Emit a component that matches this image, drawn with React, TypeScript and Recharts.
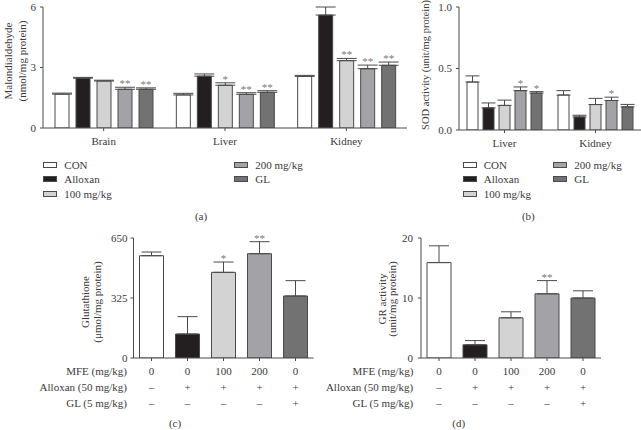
import React from "react";
import { BarChart, Bar, XAxis, YAxis, ErrorBar, LabelList, Cell } from "recharts";

const FONT = "'Liberation Serif', 'DejaVu Serif', serif";
const INK = "#3a3a3a";
const EDGE = "#4a4a4a";
const STAR = "#7a7a7a";

const GROUPS = [
    { key: "con", name: "CON", fill: "#ffffff" },
    { key: "alloxan", name: "Alloxan", fill: "#231f20" },
    { key: "mfe100", name: "100 mg/kg", fill: "#d3d3d3" },
    { key: "mfe200", name: "200 mg/kg", fill: "#a3a3a7" },
    { key: "gl", name: "GL", fill: "#727272" },
];

// (a) malondialdehyde, nmol/mg protein
const mdaTissues = ["Brain", "Liver", "Kidney"];
const mdaCon = [1.68, 1.64, 2.56];
const mdaConErr = [0.05, 0.08, 0.05];
const mdaAlloxan = [2.47, 2.57, 5.6];
const mdaAlloxanErr = [0.04, 0.11, 0.4];
const mda100 = [2.33, 2.12, 3.34];
const mda100Err = [0.04, 0.12, 0.11];
const mda200 = [1.92, 1.67, 2.94];
const mda200Err = [0.1, 0.08, 0.18];
const mdaGL = [1.92, 1.77, 3.11];
const mdaGLErr = [0.07, 0.08, 0.16];
const mdaSig = [["", "", ""], ["", "", ""], ["", "*", "**"], ["**", "**", "**"], ["**", "**", "**"]];
const mdaTicks = [0, 3, 6];

// (b) SOD activity, unit/mg protein
const sodTissues = ["Liver", "Kidney"];
const sodCon = [0.39, 0.284];
const sodConErr = [0.05, 0.036];
const sodAlloxan = [0.18, 0.106];
const sodAlloxanErr = [0.04, 0.014];
const sod100 = [0.2, 0.207];
const sod100Err = [0.043, 0.05];
const sod200 = [0.32, 0.24];
const sod200Err = [0.03, 0.027];
const sodGL = [0.3, 0.188];
const sodGLErr = [0.012, 0.02];
const sodSig = [["", ""], ["", ""], ["", ""], ["*", "*"], ["*", ""]];
const sodTicks = [0, 0.5, 1.0];

// treatment rows under (c) and (d)
const mfeDose = ["0", "0", "100", "200", "0"];
const alloxanGiven = ["\u2013", "+", "+", "+", "+"];
const glGiven = ["\u2013", "\u2013", "\u2013", "\u2013", "+"];

// (c) glutathione, umol/mg protein
const gshValues = [554, 130, 464, 565, 336];
const gshErr = [20, 94, 56, 65, 83];
const gshSig = ["", "", "*", "**", ""];
const gshTicks = [0, 325, 650];

// (d) GR activity, unit/mg protein
const grValues = [15.9, 2.2, 6.7, 10.7, 10.0];
const grErr = [2.8, 0.7, 1.0, 2.2, 1.2];
const grSig = ["", "", "", "**", ""];
const grTicks = [0, 10, 20];

function buildGrouped(cats: string[], series: number[][][], sig: string[][]) {
    return cats.map((tissue, i) => {
        const row: any = { tissue };
        GROUPS.forEach((g, s) => {
            row[g.key] = series[s][0][i];
            row[g.key + "Err"] = [0, series[s][1][i]];
            row[g.key + "Sig"] = sig[s][i];
        });
        return row;
    });
}

const mdaRows = buildGrouped(mdaTissues, [[mdaCon, mdaConErr], [mdaAlloxan, mdaAlloxanErr], [mda100, mda100Err], [mda200, mda200Err], [mdaGL, mdaGLErr]], mdaSig);
const sodRows = buildGrouped(sodTissues, [[sodCon, sodConErr], [sodAlloxan, sodAlloxanErr], [sod100, sod100Err], [sod200, sod200Err], [sodGL, sodGLErr]], sodSig);

const gshRows = mfeDose.map((mfe, i) => ({ mfe, alloxan: alloxanGiven[i], gl: glGiven[i], value: gshValues[i], err: [0, gshErr[i]], sig: gshSig[i] }));
const grRows = mfeDose.map((mfe, i) => ({ mfe, alloxan: alloxanGiven[i], gl: glGiven[i], value: grValues[i], err: [0, grErr[i]], sig: grSig[i] }));

// star above the error bar, using the bar's own pixel height to scale the error
function makeStar(rows: any[], valueKey: string, errKey: string, sigKey: string) {
    return (p: any) => {
        const row = rows[p.index];
        if (!row || !row[sigKey]) return null;
        const vb = p.viewBox ?? p;
        const v = row[valueKey];
        const ppu = v ? vb.height / v : 0;
        const y = vb.y - row[errKey][1] * ppu;
        return (
            <text x={vb.x + vb.width / 2} y={y} textAnchor="middle" fontSize={11} fill={STAR}>
                {row[sigKey]}
            </text>
        );
    };
}

function AxisTitle({ lines, xs, cy, size = 11 }: { lines: string[]; xs: number[]; cy: number; size?: number }) {
    return (
        <g>
            {lines.map((t, i) => (
                <text key={t} x={xs[i]} y={cy} transform={`rotate(-90 ${xs[i]} ${cy})`} textAnchor="middle" dominantBaseline="central" fontSize={size} fill={INK}>
                    {t}
                </text>
            ))}
        </g>
    );
}

function RowTitle(props: any) {
    const vb = props.viewBox;
    if (!vb) return null;
    return (
        <text x={vb.x - props.gap} y={vb.y + 16.8} textAnchor="end" fontSize={11} fill={INK}>
            {props.text}
        </text>
    );
}

function Legend({ x1, x2, top }: { x1: number; x2: number; top: number }) {
    return (
        <>
            {GROUPS.map((g, i) => {
                const col = i < 3 ? x1 : x2;
                const cy = top + (i < 3 ? i : i - 3) * 14.7;
                return (
                    <div key={g.key} style={{ position: "absolute", left: col, top: cy - 7, height: 14, display: "flex", alignItems: "center", fontSize: 11, color: INK, whiteSpace: "nowrap" }}>
                        <div style={{ width: 14, height: 6, boxSizing: "border-box", border: `1px solid ${EDGE}`, background: g.fill, marginRight: 7 }} />
                        <span>{g.name}</span>
                    </div>
                );
            })}
        </>
    );
}

function PanelTag({ text, x, y }: { text: string; x: number; y: number }) {
    return <div style={{ position: "absolute", left: x - 20, top: y - 7, width: 40, textAlign: "center", fontSize: 11, lineHeight: "14px", color: INK }}>{text}</div>;
}

const tickStyle = { fontSize: 11, fill: INK };
const axisStroke = { stroke: EDGE };

function treatmentAxes(gap: number) {
    return [
        <XAxis key="mfe" dataKey="mfe" interval={0} height={16} tickLine={axisStroke} tickSize={3} axisLine={axisStroke} tick={tickStyle} tickMargin={6} label={<RowTitle text="MFE (mg/kg)" gap={gap} />} />,
        <XAxis key="alloxan" xAxisId="alloxan" dataKey="alloxan" interval={0} height={16} tickLine={false} axisLine={false} tick={tickStyle} tickMargin={3} label={<RowTitle text="Alloxan (50 mg/kg)" gap={gap} />} />,
        <XAxis key="gl" xAxisId="gl" dataKey="gl" interval={0} height={16} tickLine={false} axisLine={false} tick={tickStyle} tickMargin={3} label={<RowTitle text="GL (5 mg/kg)" gap={gap} />} />,
    ];
}

export default function App() {
    return (
        <div style={{ position: "absolute", left: 0, top: 0, width: 641, height: 430, background: "#fff", fontFamily: FONT, overflow: "hidden" }}>
            {/* (a) */}
            <div style={{ position: "absolute", left: 0, top: 0 }}>
                <BarChart width={420} height={150} data={mdaRows} margin={{ top: 7, right: 13, left: 0, bottom: 2 }} barSize={14} barGap={7}>
                    <XAxis dataKey="tissue" height={20} tick={tickStyle} tickSize={3} tickMargin={6} axisLine={axisStroke} tickLine={axisStroke} />
                    <YAxis width={43} domain={[0, 6]} ticks={mdaTicks} allowDataOverflow tick={tickStyle} tickSize={3} tickMargin={4} axisLine={axisStroke} tickLine={axisStroke}
                        label={<AxisTitle lines={["Malondialdehyde", "(nmol/mg protein)"]} xs={[8.3, 21.7]} cy={61} />} />
                    {GROUPS.map((g) => (
                        <Bar key={g.key} dataKey={g.key} fill={g.fill} stroke={EDGE} strokeWidth={1} isAnimationActive={false}>
                            <ErrorBar dataKey={g.key + "Err"} width={10} stroke={EDGE} strokeWidth={1} direction="y" />
                            <LabelList dataKey={g.key + "Sig"} content={makeStar(mdaRows, g.key, g.key + "Err", g.key + "Sig")} />
                        </Bar>
                    ))}
                </BarChart>
            </div>
            <Legend x1={43.3} x2={234.3} top={164.7} />
            <PanelTag text="(a)" x={201} y={215.7} />

            {/* (b) */}
            <div style={{ position: "absolute", left: 420, top: 0 }}>
                <BarChart width={221} height={150} data={sodRows} margin={{ top: 7, right: 0, left: 0, bottom: 0 }} barSize={11} barGap={5}>
                    <XAxis dataKey="tissue" height={20} tick={tickStyle} tickSize={3} tickMargin={6} axisLine={axisStroke} tickLine={axisStroke} />
                    <YAxis width={39} domain={[0, 1]} ticks={sodTicks} allowDataOverflow tick={tickStyle} tickSize={3} tickMargin={4} axisLine={axisStroke} tickLine={axisStroke}
                        tickFormatter={(v: number) => v.toFixed(1)}
                        label={<AxisTitle lines={["SOD activity (unit/mg protein)"]} xs={[5.5]} cy={65} size={10.5} />} />
                    {GROUPS.map((g) => (
                        <Bar key={g.key} dataKey={g.key} fill={g.fill} stroke={EDGE} strokeWidth={1} isAnimationActive={false}>
                            <ErrorBar dataKey={g.key + "Err"} width={7} stroke={EDGE} strokeWidth={1} direction="y" />
                            <LabelList dataKey={g.key + "Sig"} content={makeStar(sodRows, g.key, g.key + "Err", g.key + "Sig")} />
                        </Bar>
                    ))}
                </BarChart>
            </div>
            <Legend x1={462.7} x2={553.3} top={164.7} />
            <PanelTag text="(b)" x={528.3} y={215.7} />

            {/* (c) */}
            <div style={{ position: "absolute", left: 0, top: 220 }}>
                <BarChart width={320} height={190} data={gshRows} margin={{ top: 18, right: 6.5, left: 0, bottom: 4 }}>
                    {treatmentAxes(6.5)}
                    <YAxis width={133.5} domain={[0, 650]} ticks={gshTicks} allowDataOverflow tick={tickStyle} tickSize={3} tickMargin={3} axisLine={axisStroke} tickLine={axisStroke}
                        label={<AxisTitle lines={["Glutathione", "(\u03bcmol/mg protein)"]} xs={[85, 96.7]} cy={82} />} />
                    <Bar dataKey="value" barSize={24} stroke={EDGE} strokeWidth={1} isAnimationActive={false}>
                        {gshRows.map((_, i) => <Cell key={i} fill={GROUPS[i].fill} />)}
                        <ErrorBar dataKey="err" width={10} stroke={EDGE} strokeWidth={1} direction="y" />
                        <LabelList dataKey="sig" content={makeStar(gshRows, "value", "err", "sig")} />
                    </Bar>
                </BarChart>
            </div>
            <PanelTag text="(c)" x={175} y={422.7} />

            {/* (d) */}
            <div style={{ position: "absolute", left: 320, top: 220 }}>
                <BarChart width={321} height={190} data={grRows} margin={{ top: 18, right: 40, left: 0, bottom: 4 }}>
                    {treatmentAxes(7.7)}
                    <YAxis width={101} domain={[0, 20]} ticks={grTicks} allowDataOverflow tick={tickStyle} tickSize={3} tickMargin={5} axisLine={axisStroke} tickLine={axisStroke}
                        label={<AxisTitle lines={["GR activity", "(unit/mg protein)"]} xs={[61.7, 71.7]} cy={79} />} />
                    <Bar dataKey="value" barSize={24} stroke={EDGE} strokeWidth={1} isAnimationActive={false}>
                        {grRows.map((_, i) => <Cell key={i} fill={GROUPS[i].fill} />)}
                        <ErrorBar dataKey="err" width={10} stroke={EDGE} strokeWidth={1} direction="y" />
                        <LabelList dataKey="sig" content={makeStar(grRows, "value", "err", "sig")} />
                    </Bar>
                </BarChart>
            </div>
            <PanelTag text="(d)" x={458.7} y={422.7} />
        </div>
    );
}
